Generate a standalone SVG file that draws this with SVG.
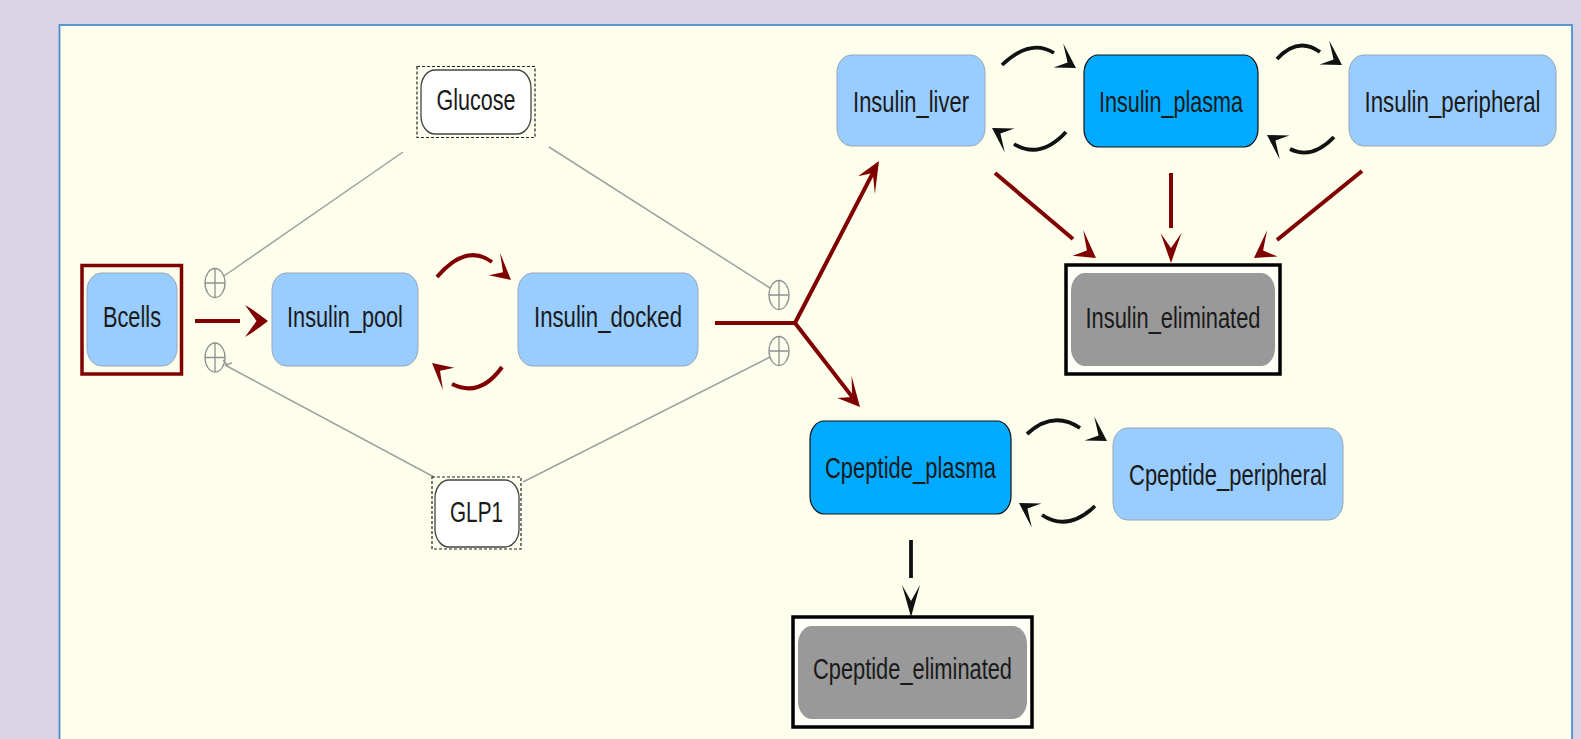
<svg xmlns="http://www.w3.org/2000/svg" width="1581" height="739" viewBox="0 0 1581 739">
<style>
.lbl{font-family:"Liberation Sans",Arial,sans-serif;font-size:30px;fill:#1a1a1a;text-anchor:middle}
.lb{fill:#99ccff;stroke:#98a6b8;stroke-width:1}
.db{fill:#00aaff;stroke:#111;stroke-width:1.2}
.gb{fill:#999999;stroke:none}
.eo{fill:#fffff8;stroke:#000;stroke-width:3.5}
.wb{fill:#fff;stroke:#444;stroke-width:1.3}
.dash{fill:none;stroke:#222;stroke-width:1.2;stroke-dasharray:3 2}
.red{fill:none;stroke:#800000;stroke-width:4;stroke-linecap:butt}
.blk{fill:none;stroke:#111;stroke-width:3.8;stroke-linecap:butt}
.ahr{fill:#800000;stroke:none}
.ahk{fill:#111;stroke:none}
.gry{fill:none;stroke:#a0a0a0;stroke-width:1.5}
.plus{fill:none;stroke:#909090;stroke-width:1.3}
</style>
<rect x="0" y="0" width="1581" height="739" fill="#d8d4e4"/>
<rect x="59.5" y="25" width="1512.5" height="730" fill="#fefeec" stroke="#4b8fd0" stroke-width="1.8"/>

<g id="connectors">
  <path class="gry" d="M403,152 L224,276"/>
  <path class="gry" d="M549,147 L770,288"/>
  <path class="gry" d="M434,477 L225,365"/>
  <path class="gry" d="M523,482 L770,357"/>
  <path class="gry" d="M223,360 L228,366 M225,365 L232,363" stroke-width="1.2"/>
  <g class="plus">
    <ellipse cx="215" cy="283" rx="10" ry="14.5"/><path d="M205,283 H225 M215,268.5 V297.5"/>
    <ellipse cx="215" cy="357.5" rx="10" ry="14.5"/><path d="M205,357.5 H225 M215,343 V372"/>
    <ellipse cx="779" cy="295" rx="10" ry="14.5"/><path d="M769,295 H789 M779,280.5 V309.5"/>
    <ellipse cx="779" cy="351" rx="10" ry="14.5"/><path d="M769,351 H789 M779,336.5 V365.5"/>
  </g>
  <path class="red" d="M195,321 L240,321"/>
  <path class="ahr" d="M268,321 Q254,310 245,305 L256.5,321 L245,337 Q254,332 268,321 Z"/>
  <path class="red" d="M437,277 Q466,243 492,262"/>
  <path class="ahr" d="M511,280 L500,252.7 L503,272.3 L488.8,275.3 Z"/>
  <path class="red" d="M502,367 Q480,398 452,384"/>
  <path class="ahr" d="M432,363 L443,390.3 L440,370.7 L454.2,367.7 Z"/>
  <path class="red" d="M715,323 L795,323 L872.8,173.1"/>
  <path class="ahr" d="M879,161 L858,176.2 L872.8,173.1 L874.9,194 Z"/>
  <path class="red" d="M795,323 L852.2,396.9"/>
  <path class="ahr" d="M860,407 L851.5,375.8 L852.2,396.9 L837.3,398 Z"/>
  <path class="blk" d="M1002,65 Q1030,38 1054,53"/>
  <path class="ahk" d="M1076,68 L1063.2,43.4 L1067.6,62.4 L1053.6,67.4 Z"/>
  <path class="blk" d="M1066,132 Q1040,160 1014,144"/>
  <path class="ahk" d="M992,128 L1004.8,152.6 L1000.4,133.6 L1014.4,128.6 Z"/>
  <path class="blk" d="M1277,59 Q1298,36 1320,52"/>
  <path class="ahk" d="M1342,65 L1329.2,40.4 L1333.6,59.4 L1319.6,64.4 Z"/>
  <path class="blk" d="M1334,137 Q1312,160 1290,149"/>
  <path class="ahk" d="M1267,135 L1279.8,159.6 L1275.4,140.6 L1289.4,135.6 Z"/>
  <path class="red" d="M995,173 L1073,239" stroke-width="3.5"/>
  <path class="ahr" d="M1096,258 L1083.2,229.9 L1086.9,250.4 L1072.6,255.7 Z"/>
  <path class="red" d="M1171,173 L1171,228" stroke-width="3.5"/>
  <path class="ahr" d="M1171,263 L1160.5,233 L1171,248 L1181.5,233 Z"/>
  <path class="red" d="M1362,171 L1277,240" stroke-width="3.5"/>
  <path class="ahr" d="M1254,258 L1267.1,230.2 L1263.1,250.6 L1277.5,256.4 Z"/>
  <path class="blk" d="M1027,434 Q1053,410 1080,428"/>
  <path class="ahk" d="M1107,441 L1094.2,416.4 L1098.6,435.4 L1084.6,440.4 Z"/>
  <path class="blk" d="M1095,506 Q1068,532 1042,515"/>
  <path class="ahk" d="M1019,503 L1031.8,527.6 L1027.4,508.6 L1041.4,503.6 Z"/>
  <path class="blk" d="M911,540 L911,578"/>
  <path class="ahk" d="M911,617 L902,585 L911,601 L920,585 Z"/>
</g>

<g id="Bcells">
  <rect x="82" y="265.5" width="99.5" height="108.5" fill="none" stroke="#800000" stroke-width="3.5"/>
  <rect class="lb" x="87" y="273" width="90" height="93" rx="14" ry="18"/>
  <text class="lbl" transform="translate(132,327) scale(0.72,1)" textLength="80.6" lengthAdjust="spacingAndGlyphs">Bcells</text>
</g>
<g id="Insulin_pool">
  <rect class="lb" x="272" y="273" width="146" height="93" rx="14" ry="18"/>
  <text class="lbl" transform="translate(345,327) scale(0.72,1)" textLength="161" lengthAdjust="spacingAndGlyphs">Insulin_pool</text>
</g>
<g id="Insulin_docked">
  <rect class="lb" x="518" y="273" width="180" height="93" rx="14" ry="18"/>
  <text class="lbl" transform="translate(608,327) scale(0.72,1)" textLength="205.6" lengthAdjust="spacingAndGlyphs">Insulin_docked</text>
</g>
<g id="Glucose">
  <rect class="dash" x="417" y="66.5" width="118" height="71"/>
  <rect class="wb" x="421" y="70" width="110" height="64" rx="14" ry="18"/>
  <text class="lbl" transform="translate(476,109.5) scale(0.72,1)" textLength="109.7" lengthAdjust="spacingAndGlyphs">Glucose</text>
</g>
<g id="GLP1">
  <rect class="dash" x="432" y="477" width="89" height="72"/>
  <rect class="wb" x="435" y="480" width="84" height="67" rx="14" ry="18"/>
  <text class="lbl" transform="translate(476.5,522) scale(0.72,1)" textLength="73.6" lengthAdjust="spacingAndGlyphs">GLP1</text>
</g>
<g id="Insulin_liver">
  <rect class="lb" x="837" y="55" width="148" height="91" rx="14" ry="18"/>
  <text class="lbl" transform="translate(911,111.5) scale(0.72,1)" textLength="161" lengthAdjust="spacingAndGlyphs">Insulin_liver</text>
</g>
<g id="Insulin_plasma">
  <rect class="db" x="1084" y="55" width="174" height="92" rx="14" ry="18"/>
  <text class="lbl" transform="translate(1171,111.5) scale(0.72,1)" textLength="200" lengthAdjust="spacingAndGlyphs">Insulin_plasma</text>
</g>
<g id="Insulin_peripheral">
  <rect class="lb" x="1349" y="55" width="207" height="91" rx="14" ry="18"/>
  <text class="lbl" transform="translate(1452.5,111.5) scale(0.72,1)" textLength="244.4" lengthAdjust="spacingAndGlyphs">Insulin_peripheral</text>
</g>
<g id="Insulin_eliminated">
  <rect class="eo" x="1066" y="265" width="214" height="109"/>
  <rect class="gb" x="1071" y="273" width="204" height="93" rx="14" ry="18"/>
  <text class="lbl" transform="translate(1173,328) scale(0.72,1)" textLength="243" lengthAdjust="spacingAndGlyphs">Insulin_eliminated</text>
</g>
<g id="Cpeptide_plasma">
  <rect class="db" x="810" y="421" width="201" height="93" rx="14" ry="18"/>
  <text class="lbl" transform="translate(910.5,477.5) scale(0.72,1)" textLength="237.5" lengthAdjust="spacingAndGlyphs">Cpeptide_plasma</text>
</g>
<g id="Cpeptide_peripheral">
  <rect class="lb" x="1113" y="428" width="230" height="92" rx="14" ry="18"/>
  <text class="lbl" transform="translate(1228,484.5) scale(0.72,1)" textLength="275" lengthAdjust="spacingAndGlyphs">Cpeptide_peripheral</text>
</g>
<g id="Cpeptide_eliminated">
  <rect class="eo" x="793" y="617" width="239" height="110"/>
  <rect class="gb" x="798" y="626" width="229" height="93" rx="14" ry="18"/>
  <text class="lbl" transform="translate(912.5,679) scale(0.72,1)" textLength="276.4" lengthAdjust="spacingAndGlyphs">Cpeptide_eliminated</text>
</g>
</svg>
